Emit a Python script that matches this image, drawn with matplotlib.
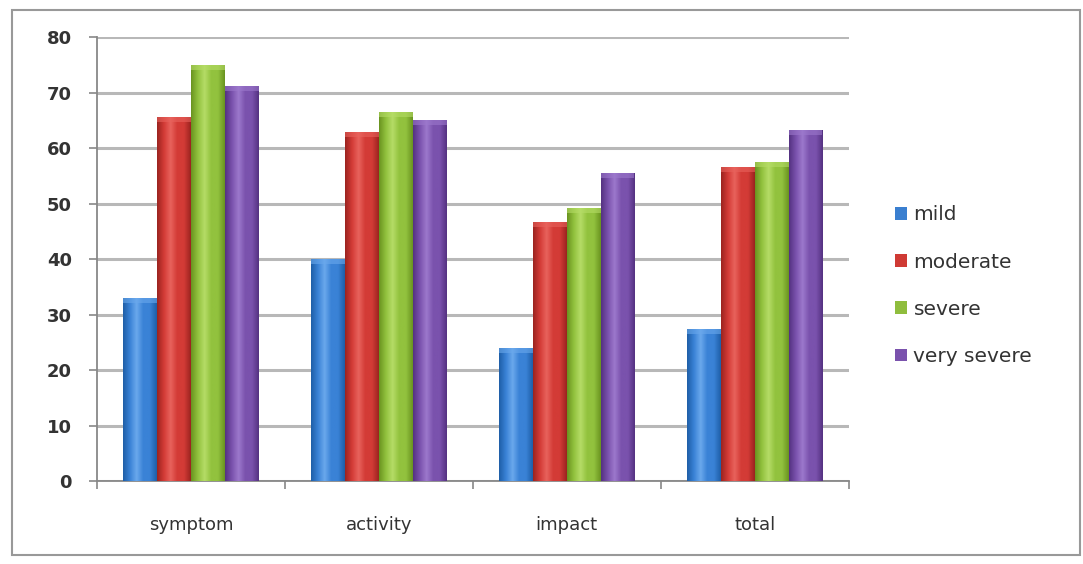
import numpy as np
import matplotlib.pyplot as plt
from matplotlib.colors import LinearSegmentedColormap
from matplotlib.patches import Rectangle, Patch

categories = ["symptom", "activity", "impact", "total"]
series = ["mild", "moderate", "severe", "very severe"]
mild = [33, 40, 24, 27.4]
moderate = [65.6, 62.9, 46.7, 56.6]
severe = [75, 66.5, 49.2, 57.5]
very_severe = [71.2, 65, 55.5, 63.2]
yticks = [0, 10, 20, 30, 40, 50, 60, 70, 80]

values = [mild, moderate, severe, very_severe]
# (dark edge, mid, light highlight)
colors = [("#1f5fa8", "#3a82d6", "#6aa8ec"),
          ("#9c2420", "#d33b36", "#e8625c"),
          ("#6a9420", "#92c23e", "#b5dc66"),
          ("#553282", "#7a52ad", "#9c78cc")]
legend_colors = ["#3a7fd0", "#cf3a34", "#8fbd3d", "#7a52ad"]

fig = plt.figure(figsize=(10.83, 5.64), dpi=100)
ax = fig.add_axes([0.0896, 0.147, 0.694, 0.787])

x = np.arange(len(categories))
bw = 0.18
grad = np.linspace(0, 1, 64).reshape(1, -1)
for i, (vals, cc) in enumerate(zip(values, colors)):
    cmap = LinearSegmentedColormap.from_list(
        series[i], [cc[0], cc[1], cc[2], cc[1], cc[1], cc[0]])
    bars = ax.bar(x + (i - 1.5) * bw, vals, bw, color=cc[1], zorder=3,
                  linewidth=0)
    for b in bars:
        x0, y0 = b.get_x(), b.get_y()
        w, h = b.get_width(), b.get_height()
        im = ax.imshow(grad, cmap=cmap, aspect="auto",
                       extent=(x0, x0 + w, y0, y0 + h), zorder=3)
        im.set_clip_path(b)
        ax.add_patch(Rectangle((x0, y0 + h - 0.9), w, 0.9,
                               color=cc[2], alpha=0.6, zorder=4, lw=0))

ax.set_xlim(-0.5, len(categories) - 0.5)
ax.set_ylim(0, 80)
ax.set_yticks(yticks)
ax.set_yticklabels([str(t) for t in yticks], fontsize=13, fontweight="bold",
                   color="#333333")
ax.set_xticks(x)
ax.set_xticklabels(categories, fontsize=13, color="#333333")
ax.set_xticks(np.arange(len(categories) + 1) - 0.5, minor=True)
ax.tick_params(axis="x", which="major", length=0, pad=25)
ax.tick_params(axis="x", which="minor", length=6, color="#888888", width=1.2)
ax.tick_params(axis="y", length=6, color="#888888", width=1.2, pad=12)
ax.grid(axis="y", color="#b8b8b8", linewidth=2.2, zorder=0)
for s in ["top", "right"]:
    ax.spines[s].set_visible(False)
for s in ["left", "bottom"]:
    ax.spines[s].set_color("#888888")
    ax.spines[s].set_linewidth(1.3)

handles = [Patch(facecolor=c, edgecolor="none") for c in legend_colors]
ax.legend(handles, series, loc="center left", bbox_to_anchor=(1.038, 0.44),
          frameon=False, fontsize=14.5, handlelength=0.6, handleheight=0.6,
          handletextpad=0.3, labelspacing=1.4, labelcolor="#333333")

fig.patches.append(Rectangle((0.011, 0.016), 0.986, 0.966, transform=fig.transFigure,
                             fill=False, edgecolor="#999999", lw=1.5))

fig.savefig("out.png", dpi=100)
